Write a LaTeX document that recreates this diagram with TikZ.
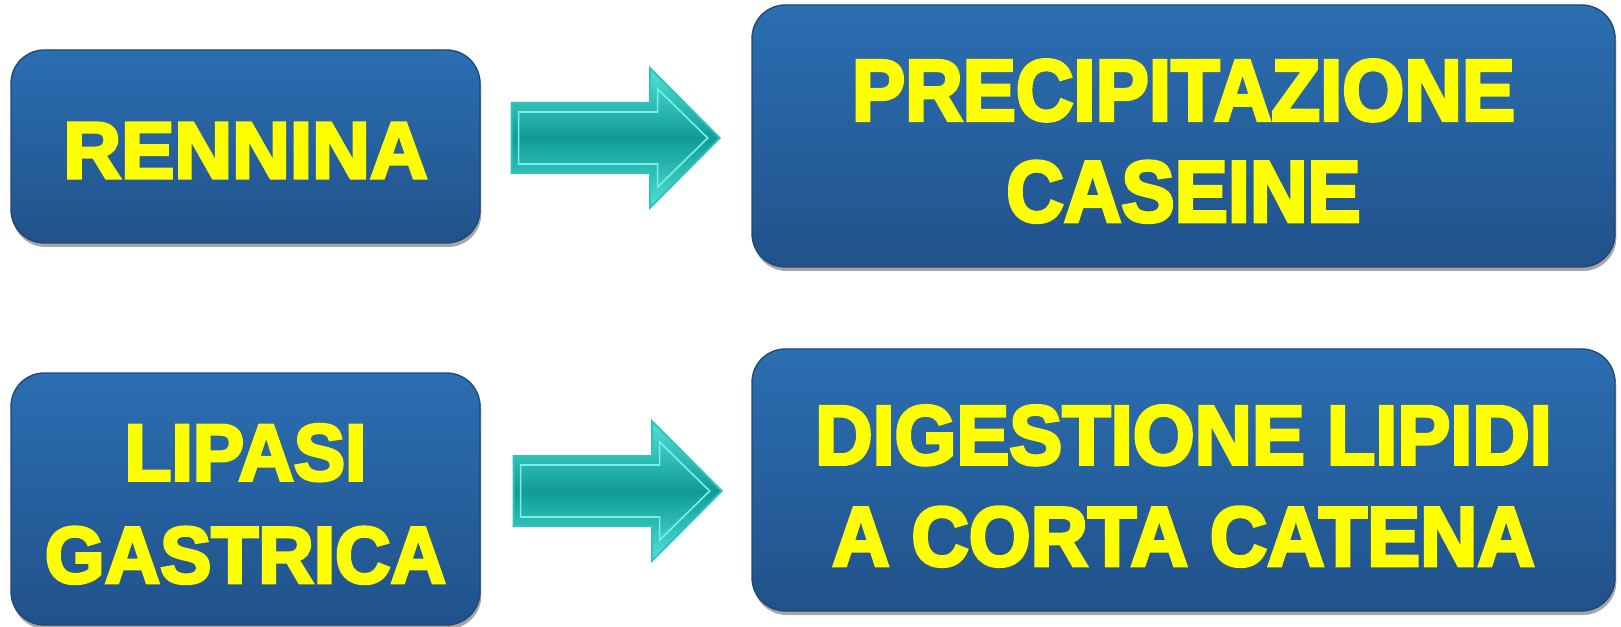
\documentclass[tikz,border=0pt]{standalone}
\usepackage{fontspec}
\setmainfont{Liberation Sans}
\newfontfamily\heavyfont{Liberation Sans Bold}[FakeBold=4]
\usetikzlibrary{shapes.arrows,shadows,calc}

\definecolor{boxtop}{RGB}{43,110,178}
\definecolor{boxbot}{RGB}{33,82,138}
\definecolor{boxline}{RGB}{30,72,118}
\definecolor{arrowrim}{RGB}{80,226,218}
\definecolor{arrowmid}{RGB}{16,155,150}
\definecolor{arrowline}{RGB}{45,196,190}
\definecolor{arrowhi}{RGB}{120,240,232}
\definecolor{txtyellow}{RGB}{255,255,0}

\tikzset{every picture/.style={line width=0.75pt},
  enzbox/.style={rectangle, rounded corners=25pt, draw=boxline, line width=1pt,
    top color=boxtop, bottom color=boxbot, inner sep=0pt,
    drop shadow={shadow xshift=1pt, shadow yshift=-3pt, fill=black, opacity=0.35}},
  effbox/.style={enzbox, minimum width=647.25pt, minimum height=196.5pt},
  boxtext/.style={inner sep=0pt, align=center, text=txtyellow,
    font=\heavyfont\fontsize{60}{77}\selectfont},
  blockarrow/.style={single arrow, anchor=tail, minimum height=156pt,
    inner xsep=0pt, inner ysep=25.5pt, single arrow head extend=26pt,
    draw=arrowline, line width=1.5pt, top color=arrowrim,
    bottom color=arrowrim, middle color=arrowmid},
  bevel/.style={arrowhi, line width=1.2pt}
}

% inner bevel line of a block arrow, measured from its tail
\newcommand\arrowbevel[1]{%
  \draw[bevel] ($(#1.tail)+(8,26)$) -- ($(#1.tail)+(147,26)$) -- ($(#1.tail)+(147,49)$)
    -- ($(#1.tail)+(197,0)$) -- ($(#1.tail)+(147,-49)$) -- ($(#1.tail)+(147,-26)$)
    -- ($(#1.tail)+(8,-26)$) -- cycle;}

\begin{document}
\begin{tikzpicture}[x=0.75pt,y=0.75pt,yscale=-1,xscale=1]
\useasboundingbox (0,0) rectangle (1621,627);

% enzymes on the left
\node[enzbox, minimum width=351.75pt, minimum height=144.75pt] (rennina) at (245.5,146.5) {};
\node[enzbox, minimum width=351.75pt, minimum height=189pt] (lipasi) at (245.5,499) {};

% effects on the right
\node[effbox] (caseine) at (1183.5,136) {};
\node[effbox] (lipidi) at (1183.5,480) {};

% box texts
\node[boxtext] (rennina-t) at ([yshift=3pt]rennina.center) {RENNINA};
\node[boxtext] (lipasi-t) at ([yshift=9pt]lipasi.center) {\scalebox{0.96}[1]{\begin{tabular}{@{}c@{}}LIPASI\\GASTRICA\end{tabular}}};
\node[boxtext, font=\heavyfont\fontsize{65}{76}\selectfont] (caseine-t) at ([yshift=11pt]caseine.center) {\scalebox{0.92}[1]{\begin{tabular}{@{}c@{}}PRECIPITAZIONE\\CASEINE\end{tabular}}};
\node[boxtext, font=\heavyfont\fontsize{63}{76}\selectfont] (lipidi-t) at ([yshift=11pt]lipidi.center) {\scalebox{0.945}[1]{\begin{tabular}{@{}c@{}}DIGESTIONE LIPIDI\\A CORTA CATENA\end{tabular}}};

% block arrows between them
\node[blockarrow] (a1) at ($(rennina.east)+(30,-8.5)$) {};
\node[blockarrow] (a2) at ($(lipasi.east)+(32,-8)$) {};
\arrowbevel{a1}
\arrowbevel{a2}

\end{tikzpicture}
\end{document}
